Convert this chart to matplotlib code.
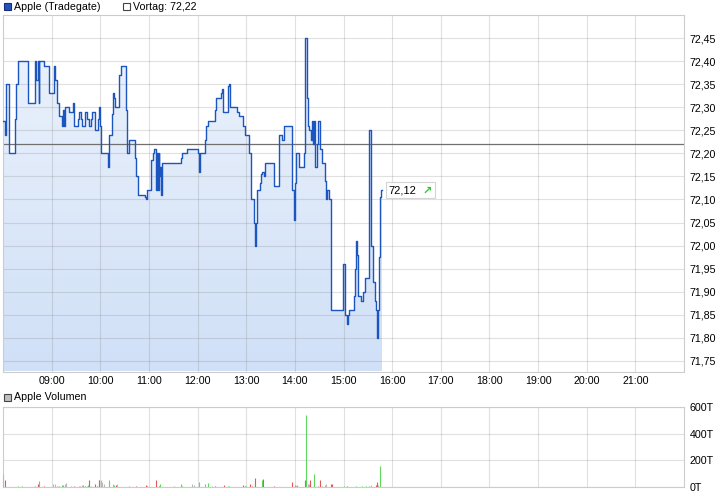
import numpy as np
import matplotlib.pyplot as plt
from matplotlib.colors import LinearSegmentedColormap
from matplotlib.patches import Rectangle
from matplotlib.ticker import FuncFormatter
from matplotlib.offsetbox import TextArea, HPacker, AnnotationBbox

plt.rcParams['font.family'] = ['Liberation Sans', 'DejaVu Sans']
plt.rcParams['font.size'] = 7.7

# Apple (Tradegate) intraday ticks, step values
price_times = ['08:00', '08:02', '08:03', '08:04', '08:07', '08:08', '08:15', '08:16', '08:18', '08:19',
               '08:31', '08:39', '08:41', '08:43', '08:44', '08:45', '08:50', '08:57', '09:03', '09:04',
               '09:06', '09:07', '09:09', '09:13', '09:14', '09:15', '09:17', '09:21', '09:26', '09:28',
               '09:33', '09:34', '09:36', '09:38', '09:41', '09:44', '09:46', '09:48', '09:50', '09:54',
               '09:57', '09:58', '10:00', '10:01', '10:09', '10:10', '10:11', '10:15', '10:16', '10:17',
               '10:18', '10:23', '10:26', '10:32', '10:33', '10:35', '10:43', '10:44', '10:46', '10:47',
               '10:55', '10:57', '10:58', '11:03', '11:05', '11:06', '11:09', '11:10', '11:11', '11:12',
               '11:13', '11:14', '11:15', '11:16', '11:39', '11:41', '11:47', '12:01', '12:02', '12:03',
               '12:09', '12:10', '12:13', '12:21', '12:23', '12:29', '12:30', '12:31', '12:38', '12:39',
               '12:40', '12:49', '12:51', '12:56', '12:58', '13:04', '13:06', '13:09', '13:11', '13:12',
               '13:13', '13:17', '13:18', '13:20', '13:22', '13:23', '13:34', '13:41', '13:44', '13:46',
               '13:56', '13:59', '14:00', '14:01', '14:05', '14:11', '14:12', '14:13', '14:15', '14:16',
               '14:18', '14:20', '14:21', '14:22', '14:23', '14:25', '14:27', '14:29', '14:31', '14:33',
               '14:37', '14:39', '14:40', '14:42', '14:44', '14:45', '14:59', '15:02', '15:04', '15:06',
               '15:07', '15:13', '15:14', '15:16', '15:17', '15:18', '15:21', '15:24', '15:26', '15:31',
               '15:32', '15:34', '15:36', '15:39', '15:40', '15:41', '15:42', '15:43', '15:44', '15:45',
               '15:46', '15:47']
price_values = [72.27, 72.255, 72.24, 72.35, 72.275, 72.20, 72.275, 72.35, 72.375, 72.40,
                72.31, 72.40, 72.36, 72.40, 72.31, 72.40, 72.39, 72.33, 72.39, 72.36,
                72.33, 72.31, 72.28, 72.26, 72.295, 72.26, 72.30, 72.29, 72.31, 72.26,
                72.275, 72.29, 72.275, 72.26, 72.29, 72.275, 72.26, 72.275, 72.29, 72.25,
                72.275, 72.30, 72.26, 72.20, 72.185, 72.17, 72.24, 72.285, 72.33, 72.32,
                72.30, 72.37, 72.39, 72.295, 72.20, 72.23, 72.19, 72.15, 72.13, 72.11,
                72.105, 72.10, 72.12, 72.185, 72.20, 72.21, 72.12, 72.20, 72.12, 72.20,
                72.15, 72.17, 72.11, 72.18, 72.19, 72.20, 72.21, 72.20, 72.16, 72.20,
                72.23, 72.26, 72.27, 72.295, 72.32, 72.33, 72.34, 72.29, 72.345, 72.35,
                72.30, 72.29, 72.28, 72.26, 72.24, 72.20, 72.10, 72.05, 72.00, 72.05,
                72.12, 72.135, 72.155, 72.16, 72.15, 72.18, 72.13, 72.24, 72.23, 72.26,
                72.12, 72.055, 72.135, 72.20, 72.17, 72.20, 72.32, 72.45, 72.32, 72.26,
                72.25, 72.23, 72.27, 72.22, 72.27, 72.17, 72.22, 72.27, 72.21, 72.18,
                72.14, 72.10, 72.12, 72.10, 72.015, 71.86, 71.96, 71.85, 71.83, 71.85,
                71.86, 71.89, 71.95, 72.01, 71.98, 71.89, 71.88, 71.90, 71.93, 72.09,
                72.25, 72.00, 71.92, 71.88, 71.86, 71.80, 71.84, 71.86, 71.975, 72.105,
                72.12, 72.12]
prev_close = 72.22
last_price = 72.12

# volume in thousands (T), direction u=up d=down n=unchanged
vol_times = ['08:00', '08:03', '08:19', '08:24', '08:40', '08:43', '08:45', '08:51', '09:02', '09:04',
             '09:06', '09:09', '09:13', '09:14', '09:16', '09:18', '09:24', '09:28', '09:34', '09:35',
             '09:37', '09:39', '09:41', '09:43', '09:45', '09:46', '09:48', '09:54', '09:56', '09:58',
             '09:59', '10:01', '10:02', '10:04', '10:11', '10:16', '10:17', '10:19', '10:21', '10:36',
             '10:44', '10:56', '10:58', '11:09', '11:13', '11:14', '11:31', '11:40', '11:41', '11:53',
             '11:55', '11:56', '12:02', '12:09', '12:13', '12:18', '12:21', '12:32', '12:37', '12:39',
             '12:56', '12:58', '13:00', '13:05', '13:07', '13:11', '13:20', '13:21', '13:34', '13:56',
             '14:00', '14:01', '14:03', '14:13', '14:14', '14:16', '14:17', '14:19', '14:23', '14:28',
             '14:29', '14:31', '14:34', '14:37', '14:38', '14:44', '14:46', '15:00', '15:04', '15:16',
             '15:23', '15:28', '15:32', '15:34', '15:40', '15:41', '15:43', '15:45']
vol_values = [97, 55, 10, 10, 10, 20, 48, 10, 25, 20,
              10, 10, 17, 15, 20, 32, 10, 10, 10, 10,
              15, 15, 10, 10, 15, 55, 10, 22, 10, 55,
              52, 55, 35, 25, 55, 25, 15, 15, 25, 10,
              10, 15, 10, 55, 10, 22, 10, 22, 10, 22,
              10, 17, 40, 25, 30, 10, 10, 15, 10, 10,
              15, 10, 10, 22, 10, 68, 55, 62, 10, 38,
              15, 10, 15, 55, 543, 25, 25, 55, 100, 10,
              10, 55, 10, 15, 25, 20, 20, 10, 10, 10,
              10, 10, 10, 15, 15, 35, 15, 160]
vol_dirs = ['n', 'd', 'u', 'u', 'u', 'd', 'u', 'd', 'n', 'n',
            'u', 'd', 'u', 'u', 'n', 'n', 'n', 'd', 'n', 'n',
            'n', 'u', 'd', 'n', 'u', 'd', 'n', 'd', 'd', 'n',
            'd', 'n', 'n', 'n', 'u', 'n', 'u', 'd', 'n', 'u',
            'd', 'd', 'd', 'd', 'd', 'u', 'n', 'u', 'u', 'n',
            'n', 'n', 'u', 'u', 'u', 'n', 'd', 'd', 'u', 'u',
            'd', 'd', 'u', 'd', 'd', 'd', 'u', 'd', 'd', 'd',
            'u', 'd', 'u', 'd', 'u', 'n', 'n', 'd', 'u', 'n',
            'n', 'd', 'n', 'n', 'n', 'd', 'd', 'u', 'd', 'u',
            'u', 'u', 'u', 'n', 'd', 'd', 'n', 'u']

hours = [9, 10, 11, 12, 13, 14, 15, 16, 17, 18, 19, 20, 21]


def to_h(t):
    h, m = t.split(':')
    return int(h) + int(m) / 60


def de(v, d=2):
    return f'{v:.{d}f}'.replace('.', ',')


px = np.array([to_h(t) for t in price_times])
py = np.array(price_values)
ylo, yhi = 71.727, 72.50

W, H = 726, 496
fig = plt.figure(figsize=(W / 100, H / 100), dpi=100)
ax = fig.add_axes([3 / W, 1 - 371.5 / H, 681 / W, 356.5 / H])
vax = fig.add_axes([3 / W, 1 - 487 / H, 681 / W, 80 / H])

for a in (ax, vax):
    a.set_xlim(8, 22)
    a.set_xticks(hours)
    a.grid(True, color=(0.5, 0.5, 0.5), alpha=0.24, lw=0.8)
    a.yaxis.tick_right()
    a.tick_params(axis='y', length=0, pad=4, labelsize=7.7)
    a.tick_params(axis='x', length=0, pad=3, labelsize=7.7)
    for s in a.spines.values():
        s.set_color('#cccccc')
        s.set_linewidth(0.8)

# price panel
ax.set_ylim(ylo, yhi)
ax.set_yticks(np.round(np.arange(71.75, 72.451, 0.05), 2))
ax.yaxis.set_major_formatter(FuncFormatter(lambda v, p: de(v)))
ax.set_xticklabels([f'{h:02d}:00' for h in hours])

fill = ax.fill_between(px, py, ylo, step='post', color='none', lw=0)
grad = LinearSegmentedColormap.from_list('g', ['#edf3fc', '#d0e0f7'])
im = ax.imshow(np.linspace(0, 1, 256).reshape(-1, 1), cmap=grad, aspect='auto',
               extent=[8, 22, ylo, yhi], origin='upper', zorder=1)
im.set_clip_path(fill.get_paths()[0], transform=ax.transData)
ax.step(px, py, where='post', color='#1a55c0', lw=1.0, zorder=3)
ax.axhline(prev_close, color='#707070', lw=0.9, zorder=2.5)

# last price box
tag = HPacker(children=[TextArea(de(last_price), textprops=dict(fontsize=8)),
                        TextArea('\u2197', textprops=dict(fontsize=8, color='#22cc22',
                                                          family='DejaVu Sans', fontweight='bold'))],
              align='center', pad=0, sep=4)
ab = AnnotationBbox(tag, (15.93, last_price), box_alignment=(0, 0.5), frameon=True, pad=0.3,
                    bboxprops=dict(boxstyle='square', fc='white', ec='#d4d4d4', lw=0.8))
ab.set_zorder(5)
ax.add_artist(ab)

# volume panel
vx = np.array([to_h(t) for t in vol_times])
cmap = {'u': '#5fd85f', 'd': '#e05a5a', 'n': '#b8b8b8'}
vax.vlines(vx, 0, vol_values, colors=[cmap[d] for d in vol_dirs], lw=0.8, zorder=3)
vax.set_ylim(0, 600)
vax.set_yticks([0, 200, 400, 600])
vax.yaxis.set_major_formatter(FuncFormatter(lambda v, p: f'{v:.0f}T'))
vax.set_xticklabels([])

# legends
fig.add_artist(Rectangle((3.5 / W, 1 - 10 / H), 7 / W, 7 / H, transform=fig.transFigure,
                         fc='#2052c0', ec='#1a2f70', lw=0.8))
fig.text(14 / W, 1 - 6.5 / H, 'Apple (Tradegate)', va='center', ha='left')
fig.add_artist(Rectangle((123 / W, 1 - 10 / H), 7 / W, 7 / H, transform=fig.transFigure,
                         fc='white', ec='#444444', lw=0.8))
fig.text(133 / W, 1 - 6.5 / H, 'Vortag: ' + de(prev_close), va='center', ha='left')
fig.add_artist(Rectangle((3.5 / W, 1 - 401 / H), 7 / W, 7 / H, transform=fig.transFigure,
                         fc='#c0c0c0', ec='#444444', lw=0.8))
fig.text(14 / W, 1 - 397.5 / H, 'Apple Volumen', va='center', ha='left')

fig.savefig('out.png', dpi=100)
